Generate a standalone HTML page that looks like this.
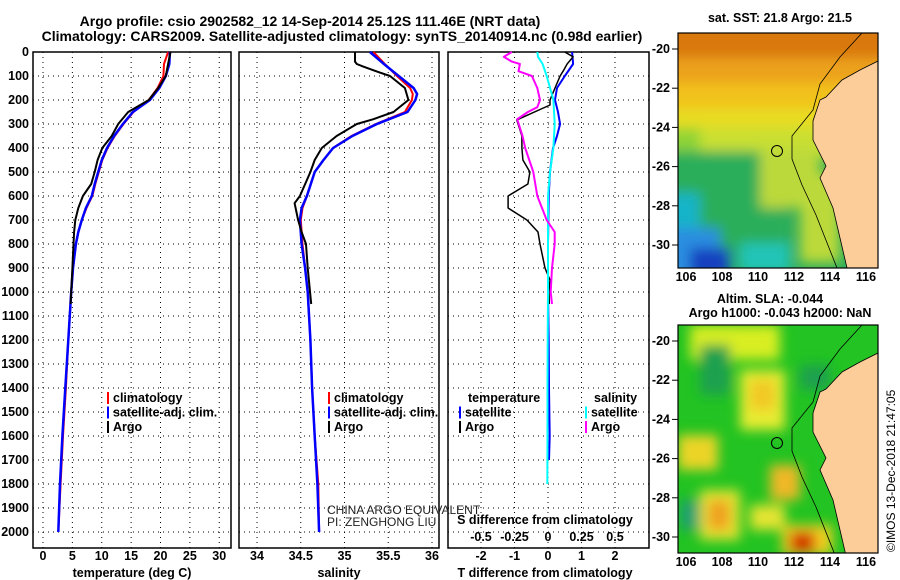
<!DOCTYPE html>
<html><head><meta charset="utf-8">
<style>
body{margin:0;background:#fff;}
svg{display:block;font-family:"Liberation Sans",sans-serif;}
text{font-weight:bold;font-size:12.5px;fill:#000;}
</style></head>
<body>
<svg id="fig" width="900" height="580" viewBox="0 0 900 580" xmlns="http://www.w3.org/2000/svg">
<defs>
<filter id="blur6" x="-20%" y="-20%" width="140%" height="140%"><feGaussianBlur stdDeviation="6"/></filter>
<filter id="blur3"><feGaussianBlur stdDeviation="2.5"/></filter>
<clipPath id="clipTop"><rect x="678" y="33" width="200" height="235"/></clipPath>
<clipPath id="clipBot"><rect x="678" y="325" width="200" height="228"/></clipPath>
</defs>
<text x="310" y="26" text-anchor="middle" style="font-size:14px">Argo profile: csio 2902582_12 14-Sep-2014 25.12S 111.46E (NRT data)</text>
<text x="342" y="41" text-anchor="middle" style="font-size:14px">Climatology: CARS2009. Satellite-adjusted climatology: synTS_20140914.nc (0.98d earlier)</text>
<g id="charts"></g>
<g id="maps"></g>
<text transform="translate(895,552) rotate(-90)" style="font-weight:normal;font-size:12px">©IMOS 13-Dec-2018 21:47:05</text>
</svg>
<script>
// ---- data ----
const tempDepths = [0,50,100,150,200,250,300,350,400,450,500,550,600,650,700,750,800,900,1000,1200,1400,1600,1800,2000];
const tempClim   = [21.3,20.6,20.5,19.5,18.0,15.4,13.7,12.2,11.0,10.1,9.5,8.9,8.4,7.4,6.6,6.0,5.6,5.1,4.8,4.3,3.9,3.4,3.0,2.6];
const tempSat    = [21.6,21.5,20.9,19.8,18.2,15.3,13.6,12.1,10.9,10.0,9.4,8.8,8.3,7.3,6.6,6.0,5.6,5.1,4.8,4.3,3.8,3.3,2.9,2.6];
const argoDepths = [0,50,100,150,200,250,300,350,400,450,500,550,600,650,700,750,800,900,1000,1050];
const tempArgo   = [21.7,21.3,20.9,19.6,18.0,14.5,12.8,11.7,10.1,9.3,8.8,8.2,6.8,6.0,5.5,5.3,5.2,5.0,4.8,4.7];

const salDepths = [0,50,100,150,175,200,250,300,350,400,450,500,600,650,700,800,900,1000,1200,1400,1600,1800,2000];
const salClim   = [35.33,35.46,35.60,35.75,35.78,35.77,35.69,35.36,35.08,34.87,34.76,34.66,34.57,34.52,34.50,34.52,34.55,34.58,34.61,34.63,34.66,34.70,34.71];
const salSat    = [35.29,35.45,35.62,35.79,35.83,35.81,35.72,35.37,35.09,34.87,34.76,34.66,34.57,34.51,34.49,34.51,34.55,34.58,34.61,34.63,34.66,34.69,34.71];
const salArgoDepths = [0,40,50,60,80,100,150,200,250,280,300,350,400,450,500,600,630,700,750,800,900,1050];
const salArgo   = [35.12,35.12,35.14,35.21,35.36,35.52,35.69,35.73,35.56,35.33,35.14,34.91,34.74,34.66,34.61,34.49,34.43,34.47,34.51,34.56,34.58,34.62];

const dTDepths = [0,50,100,150,200,250,300,350,400,500,600,800,1000,1200,1400,1600,1700];
const dTSat    = [0.72,0.75,0.5,0.27,0.21,0.3,0.36,0.27,0.15,0.06,0.02,0.0,0.0,0.02,0.03,0.05,0.03];
const dTArgoDepths = [0,20,50,80,100,150,200,221,283,350,400,450,500,550,600,650,700,750,800,900,950,1000,1050];
const dTArgo   = [0.5,0.75,0.57,0.45,0.36,0.21,0.06,0.06,-0.93,-0.78,-0.78,-0.75,-0.54,-0.6,-1.19,-1.19,-0.63,-0.3,-0.24,-0.09,0.06,0.03,0.04];
const dSDepths = [0,20,50,100,200,300,400,500,600,800,1000,1200,1400,1600,1800];
const dSSat    = [-0.08,-0.075,-0.04,-0.01,0.04,0.05,0.04,0.015,0.0,0.0,0.0,-0.002,-0.004,-0.004,-0.005];
const dSArgoDepths = [0,20,40,50,80,100,150,200,230,250,280,350,400,500,600,700,750,800,900,1000,1050];
const dSArgo   = [-0.27,-0.33,-0.27,-0.21,-0.22,-0.12,-0.08,-0.06,-0.08,-0.15,-0.23,-0.19,-0.17,-0.11,-0.08,-0.01,0.05,0.05,0.03,0.02,0.03];

const depthTicks = [0,100,200,300,400,500,600,700,800,900,1000,1100,1200,1300,1400,1500,1600,1700,1800,1900,2000];
const tempTicks = [0,5,10,15,20,25,30];
const salTicks = [34,34.5,35,35.5,36];
const salTickLabels = ["34","34.5","35","35.5","36"];
const dTTicks = [-2,-1,0,1,2];
const dSTicks = [-0.5,-0.25,0,0.25,0.5];
const dSTickLabels = ["-0.5","-0.25","0","0.25","0.5"];

// ---- geometry ----
const NS = "http://www.w3.org/2000/svg";
const PT = 52, PB = 548;
const yD = d => 52 + d*0.24;
const xT = t => 43 + t*5.875;
const xS = s => 257 + (s-34)*87.5;
const xDT = t => 548 + t*33.5;
const xDS = s => 548 + s*134;
const G = document.getElementById('charts');
function mk(tag, attrs, parent){
  const e = document.createElementNS(NS, tag);
  for (const k in attrs) e.setAttribute(k, attrs[k]);
  (parent||G).appendChild(e); return e;
}
function panel(x0,x1,name,xticks,xf,labels){
  const g = mk('g',{});
  
  
  depthTicks.forEach(d=>{
    if(d>0) mk('line',{x1:x0,x2:x1,y1:yD(d),y2:yD(d),stroke:'#000','stroke-dasharray':'1 4'},g);
  });
  xticks.forEach(t=>{
    mk('line',{x1:xf(t),x2:xf(t),y1:PT,y2:PB,stroke:'#000','stroke-dasharray':'1 4'},g);
  });
  mk('rect',{x:x0,y:PT,width:x1-x0,height:PB-PT,fill:'none',stroke:'#000','stroke-width':1.5},g);
  if(labels){
    xticks.forEach((t,i)=>{
      const tx = mk('text',{x:xf(t),y:560,'text-anchor':'middle'},g);
      tx.textContent = labels[i];
    });
  }
  return g;
}
function line(xs, ds, xf, color, w, name, g){
  const pts = xs.map((v,i)=>xf(v).toFixed(1)+','+yD(ds[i]).toFixed(1)).join(' ');
  const p = mk('polyline',{points:pts,fill:'none',stroke:color,'stroke-width':w,'stroke-linejoin':'round'},g);
  
  
}
function txt(x,y,s,name,extra){
  const t = mk('text',Object.assign({x:x,y:y},extra||{}));
  t.textContent = s;
  
  
  return t;
}
// depth axis labels
depthTicks.forEach(d=>{
  const t = txt(29, yD(d)+4, String(d), 'depth-tick-label', {'text-anchor':'end'});
});
// panel 1
const p1 = panel(33,231,'temperature-panel',tempTicks,xT,tempTicks.map(String));
line(tempClim,tempDepths,xT,'#f00',2,'temperature-climatology-line',p1);
line(tempSat,tempDepths,xT,'#00f',2.5,'temperature-satellite-line',p1);
line(tempArgo,argoDepths,xT,'#000',2,'temperature-argo-line',p1);
txt(132,577,'temperature (deg C)','temperature-axis-title',{'text-anchor':'middle'});
// panel 2
const p2 = panel(239,439,'salinity-panel',salTicks,xS,salTickLabels);
line(salClim,salDepths,xS,'#f00',2,'salinity-climatology-line',p2);
line(salSat,salDepths,xS,'#00f',2.5,'salinity-satellite-line',p2);
line(salArgo,salArgoDepths,xS,'#000',2,'salinity-argo-line',p2);
txt(339,577,'salinity','salinity-axis-title',{'text-anchor':'middle'});
// panel 3
const p3 = panel(448,649,'difference-panel',dTTicks,xDT,dTTicks.map(String));
line(dTSat,dTDepths,xDT,'#00f',2,'temp-diff-satellite-line',p3);
line(dTArgo,dTArgoDepths,xDT,'#000',1.5,'temp-diff-argo-line',p3);
line(dSSat,dSDepths,xDS,'#0ff',2,'sal-diff-satellite-line',p3);
line(dSArgo,dSArgoDepths,xDS,'#f0f',2,'sal-diff-argo-line',p3);
dSTicks.forEach((s,i)=>{ txt(xDS(s),541,dSTickLabels[i],'sal-diff-tick-label',{'text-anchor':'middle'}); });
txt(545,524,'S difference from climatology','sal-diff-axis-title',{'text-anchor':'middle'});
txt(545,577,'T difference from climatology','temp-diff-axis-title',{'text-anchor':'middle'});
// legends
function legend(x,y,items,name){
  const g = mk('g',{});
  
  
  items.forEach((it,i)=>{
    if(it[1]) mk('rect',{x:x,y:y+i*14.5-10,width:2,height:12,fill:it[1]},g);
    const t = mk('text',{x:x+6,y:y+i*14.5},g); t.textContent = it[0];
  });
}
legend(107,402,[['climatology','#f00'],['satellite-adj. clim.','#00f'],['Argo','#000']],'temperature-legend');
legend(328,402,[['climatology','#f00'],['satellite-adj. clim.','#00f'],['Argo','#000']],'salinity-legend');
txt(468,402,'temperature','legend-temperature-header');
legend(459,416.5,[['satellite','#00f'],['Argo','#000']],'temp-diff-legend');
txt(594,402,'salinity','legend-salinity-header');
legend(585,416.5,[['satellite','#0ff'],['Argo','#f0f']],'sal-diff-legend');
txt(327,514,'CHINA ARGO EQUIVALENT','float-info-line-1',{style:'font-weight:normal;font-size:12px;fill:#222'});
txt(327,526,'PI: ZENGHONG LIU','float-info-line-2',{style:'font-weight:normal;font-size:12px;fill:#222'});

// ---- maps ----
const M = document.getElementById('maps');
const lonX = lon => 686 + (lon-106)*18;
function mapPanel(top, kind){
  const off = top-33;
  const g = mk('g',{},M);
  
  
  const cg = mk('g',{'clip-path': kind==='sst'?'url(#clipTop)':'url(#clipBot)'},g);
  const h = kind==='sst'?235:228;
  if(kind==='sst'){
    mk('rect',{x:678,y:top,width:200,height:h,fill:'#2aae5a'},cg);
    const bg = mk('g',{filter:'url(#blur6)'},cg);
    [[660,top-20,240,50,'#d9780c'],[660,top+25,240,30,'#eca21a'],[660,top+50,240,30,'#f2c21e'],
     [660,top+75,240,30,'#e8dc20'],[700,top+95,140,30,'#c9e030'],[660,top+95,40,30,'#8fd436'],
     [660,top+118,130,110,'#2aae5a'],[760,top+115,60,60,'#bcd93a'],[800,top+140,40,90,'#bcd93a'],
     [660,top+160,40,60,'#18b4c8'],[660,top+195,60,50,'#2a8ee0'],[690,top+215,40,30,'#1540c0'],
     [740,top+210,50,30,'#24c4b8']].forEach(r=>mk('rect',{x:r[0],y:r[1],width:r[2],height:r[3],fill:r[4]},bg));
  } else {
    mk('rect',{x:678,y:top,width:200,height:h,fill:'#22c322'},cg);
    const bg = mk('g',{filter:'url(#blur6)'},cg);
    [[705,top,40,25,'#f0c020'],[690,top,90,35,'#d8ee20'],[740,top+45,45,60,'#e8ec30'],[750,top+55,25,30,'#f2c828'],
     [678,top+110,40,35,'#ecd428'],[770,top+140,30,35,'#f0b828'],[700,top+165,40,50,'#e6e430'],[708,top+175,22,30,'#f0a020'],
     [750,top+180,35,25,'#e6e430'],[782,top+200,50,30,'#f4d020'],[790,top+207,25,20,'#d02000'],[700,top+20,30,50,'#1aa050'],
     [800,top+40,30,25,'#1aa050'],[680,top+175,20,30,'#1aa070']].forEach(r=>mk('rect',{x:r[0],y:r[1],width:r[2],height:r[3],fill:r[4]},bg));
  }
  const land = [[878,61],[860,70],[842,80],[826,97],[820,100],[813,121],[813,140],[826,166],[820,178],[833,208],[840,238],[847,268],[878,268]]
    .map(p=>p[0]+','+(p[1]+off)).join(' ');
  const shelf = [[862,33],[840,57],[820,84],[813,110],[792,136],[792,159],[802,185],[816,215],[837,268]]
    .map(p=>p[0]+','+(p[1]+off)).join(' ');
  mk('polygon',{points:land,fill:'#fccc99',stroke:'#000','stroke-width':0.8},cg);
  mk('polyline',{points:shelf,fill:'none',stroke:'#000','stroke-width':0.8},cg);
  const c = mk('circle',{cx:777,cy:151+off,r:5.5,fill:'none',stroke:'#000','stroke-width':1},g);
  
  
  mk('rect',{x:678,y:top,width:200,height:h,fill:'none',stroke:'#000','stroke-width':1.2},g);
  [-20,-22,-24,-26,-28,-30].forEach(lat=>{
    const y = 49 + (-20-lat)*19.6 + off;
    mk('line',{x1:672,x2:678,y1:y,y2:y,stroke:'#000'},g);
    const t = mk('text',{x:670,y:y+4,'text-anchor':'end'},g); t.textContent = String(lat);
  });
  [106,108,110,112,114,116].forEach(lon=>{
    const t = mk('text',{x:lonX(lon),y:top+h+13,'text-anchor':'middle'},g); t.textContent = String(lon);
  });
}
mapPanel(33,'sst');
mapPanel(325,'sla');
const mt1 = mk('text',{x:780,y:22,'text-anchor':'middle'},M); mt1.textContent='sat. SST: 21.8 Argo: 21.5';
 
const mt2 = mk('text',{x:770,y:303,'text-anchor':'middle'},M); mt2.textContent='Altim. SLA: -0.044';
 
const mt3 = mk('text',{x:780,y:317,'text-anchor':'middle'},M); mt3.textContent='Argo h1000: -0.043 h2000: NaN';
 
</script>
</body></html>
